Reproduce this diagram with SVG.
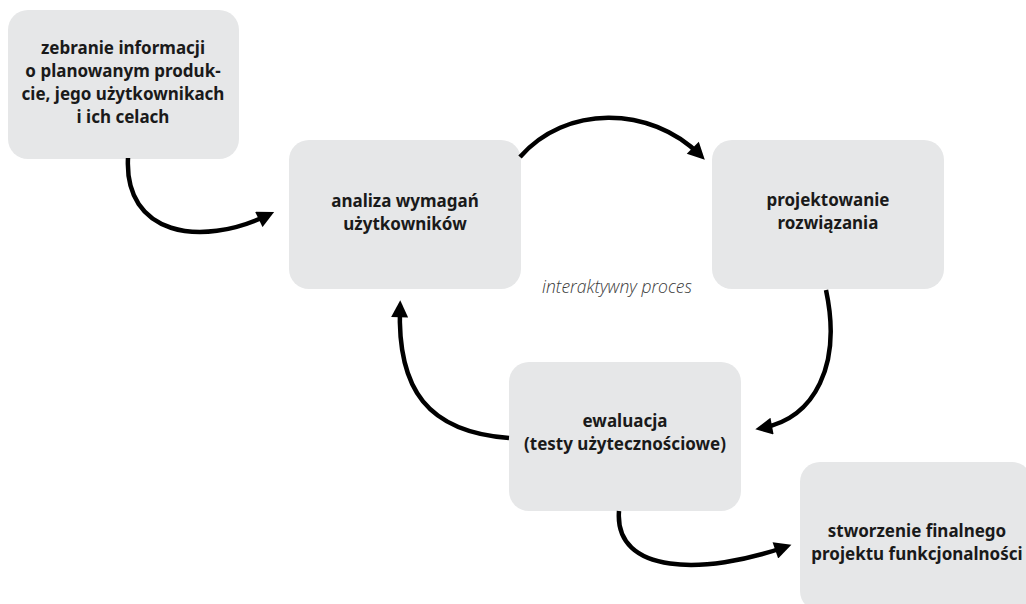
<svg xmlns="http://www.w3.org/2000/svg" width="1026" height="604" viewBox="0 0 1026 604">
<style>
.box{fill:#e6e7e8}
.t{font-family:"Noto Sans","Open Sans",sans-serif;font-weight:bold;font-size:17px;fill:#1a1a1a;text-anchor:middle}
.it{font-family:"Open Sans","Noto Sans",sans-serif;font-style:italic;font-weight:300;font-size:17.5px;fill:#3a3a3a;text-anchor:middle}
.c{fill:none;stroke:#000;stroke-width:4.5;stroke-linecap:butt}
</style>
<defs>
<marker id="ah" viewBox="0 0 10 10" refX="6" refY="5" markerUnits="userSpaceOnUse" markerWidth="19" markerHeight="17" orient="auto">
<path d="M0,0 L10,5 L0,10 Z" fill="#000"/>
</marker>
</defs>
<rect width="1026" height="604" fill="#fff"/>
<g id="n1"><rect class="box" x="8" y="10" width="231" height="149" rx="20"/>
<text class="t" x="123" y="54">zebranie informacji</text>
<text class="t" x="123" y="77">o planowanym produk-</text>
<text class="t" x="123" y="100">cie, jego użytkownikach</text>
<text class="t" x="123" y="123">i ich celach</text></g>
<g id="n2"><rect class="box" x="289" y="140" width="232" height="149" rx="20"/>
<text class="t" x="405" y="207">analiza wymagań</text>
<text class="t" x="405" y="230">użytkowników</text></g>
<g id="n3"><rect class="box" x="712" y="140" width="232" height="149" rx="20"/>
<text class="t" x="828" y="206">projektowanie</text>
<text class="t" x="828" y="229">rozwiązania</text></g>
<g id="n4"><rect class="box" x="509" y="362" width="232" height="149" rx="20"/>
<text class="t" x="625" y="427">ewaluacja</text>
<text class="t" x="625" y="450">(testy użytecznościowe)</text></g>
<g id="n5"><rect class="box" x="800" y="462" width="232" height="149" rx="20"/>
<text class="t" x="917" y="537">stworzenie finalnego</text>
<text class="t" x="917" y="560">projektu funkcjonalności</text></g>
<text class="it" x="617" y="293">interaktywny proces</text>
<g id="connectors">
<path class="c" marker-end="url(#ah)" d="M128,158 C124,235 200,248 268,215"/>
<path class="c" marker-end="url(#ah)" d="M520,157 C565,105 650,105 700,155"/>
<path class="c" marker-end="url(#ah)" d="M826,290 C842,365 815,418 762,428"/>
<path class="c" marker-end="url(#ah)" d="M509,438 C428,432 397,390 400,307"/>
<path class="c" marker-end="url(#ah)" d="M619,511 C614,575 705,575 785,547"/>
</g>
</svg>
